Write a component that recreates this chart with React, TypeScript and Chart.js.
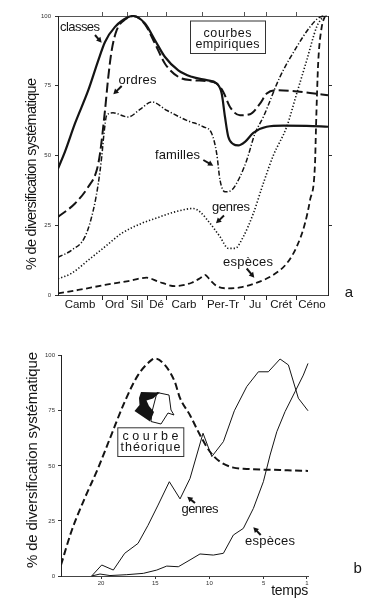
import React, { useEffect, useRef } from 'react';
import { Chart, registerables } from 'chart.js';
Chart.register(...registerables);

// ---------- Panel a : empirical curves ----------
// x = position along the geological time axis (arbitrary units 0–270)
const periodLabels = ['Camb', 'Ord', 'Sil', 'Dé', 'Carb', 'Per-Tr', 'Ju', 'Crét', 'Céno'];
const periodBounds = [0, 44, 69, 89, 108, 144, 186, 208, 238, 270];
const pctTicks = [0, 25, 50, 75, 100];

const classes: [number, number][] = [[0,45.3],[7,51.4],[17,61.5],[30.3,73.4],[40.3,84.1],[47,90.7],[57,96.1],[70.3,99.6],[75.3,100],[87,97.3],[97,91.3],[107,85.3],[120.3,80.5],[133.7,78.2],[148.7,77],[158.7,75.8],[163.7,72.2],[167,63.8],[170.3,56.7],[175.3,54.1],[180.3,53.6],[187,54.9],[195.3,58.1],[208.7,60.3],[225.3,60.7],[248.7,60.6],[270,60.3]];
const ordres: [number, number][] = [[0,28],[17,32.8],[30.3,38.8],[38.7,44.7],[42,50.7],[47,66.2],[50.3,78.2],[53.7,87.7],[58.7,94.9],[68,99],[75.3,100],[87,97],[97,90.1],[107,82.9],[120.3,78.2],[133.7,77],[148.7,76.7],[158.7,75.8],[165.3,72.8],[172,67.4],[182,64.4],[192,64.8],[202,68.6],[208.7,72.2],[218.7,73.4],[232,73.2],[252,72.4],[270,71.6]];
const familles: [number, number][] = [[0,13.5],[13.7,16.1],[27,20.9],[35.3,30.4],[40.3,40],[43.7,49.5],[46,57.9],[48.7,64.4],[55,65.3],[70,63.8],[82,66.5],[93.7,69.2],[108.7,66.2],[128.7,62.6],[145.3,60.3],[153.7,57.9],[158.7,50.7],[162,41.2],[167,37],[173.7,37.6],[182,42.4],[188.7,48.3],[197,57.9],[205.3,63.8],[222,78.2],[238.7,88.9],[252,96.1],[262,99.6],[270,100]];
const genresA: [number, number][] = [[0,5.8],[13.7,7.8],[30.3,12.5],[47,17.3],[63.7,22.1],[83.7,25.7],[97,27.4],[117,29.8],[135.3,31],[142,29.8],[152,25.7],[162,20.9],[170.3,16.7],[177,16.7],[185.3,20.9],[195.3,29.2],[205.3,40],[215.3,50],[228.7,60.3],[238.7,72.2],[248.7,84.1],[258.7,96.1],[265.3,100]];
const especesA: [number, number][] = [[0,0.6],[20.3,1.8],[47,3.6],[70.3,5],[88.7,6.2],[100.3,4.8],[117,3.2],[133.7,4.4],[142,6],[147,7.2],[152,5.4],[158.7,3.2],[168.7,2.4],[182,2.7],[198.7,4.4],[215.3,7.2],[228.7,11.3],[238.7,17.3],[247,25.7],[252,34],[257,47],[258,60],[259,72],[260.3,84],[263.7,96],[267,100]];

// ---------- Panel b : theoretical curve ----------
// x = temps (reversed axis)
const tempsTicks = [20, 15, 10, 5, 1];
const theorique: [number, number][] = [[23.7,5],[22.75,20.1],[21.51,35.3],[20.28,48.9],[19.06,64],[17.82,79.1],[16.59,91.2],[15.36,98],[15.05,98.8],[14.12,95.8],[13.2,88.2],[12.71,80.7],[11.79,73],[10.87,64],[9.95,56.4],[9.02,51.9],[7.79,49.2],[6.55,48.6],[3.48,48.1],[0.9,47.7]];
const genresB: [number, number][] = [[20.87,0],[19.94,5],[18.87,2.7],[17.82,10.3],[16.59,14.8],[15.67,23],[14.74,32.2],[13.7,42.8],[12.71,35],[11.79,44.3],[10.59,64.8],[9.78,54.2],[8.71,61],[7.7,75],[6.55,86],[5.48,92.7],[4.56,92.7],[3.48,98.5],[2.71,95.8],[1.79,80.7],[0.9,75]];
const especesB: [number, number][] = [[20.87,0],[20.1,0.9],[19.18,0.2],[17.63,0.6],[16.1,1.2],[14.86,2.7],[13.94,4.5],[12.87,4.2],[11.79,7.3],[10.87,10],[9.64,9.5],[8.71,10.3],[7.79,18.6],[6.87,21.6],[5.94,30.7],[5.02,42.8],[4.4,54.9],[3.78,65.5],[3.02,74.6],[2.09,83.7],[1.33,91.2],[0.9,96.5]];

const INK = '#141414';
const FONT = '"Liberation Sans", Arial, Helvetica, sans-serif';
const yTitle = '% de diversification systématique';

const pts = (a: [number, number][]) => a.map(([x, y]) => ({ x, y }));

function fitText(ctx: any, text: string, cx: number, cy: number, width: number, size: number, rot = 0, baseline = 'alphabetic') {
  ctx.save();
  ctx.font = `${size}px ${FONT}`;
  ctx.fillStyle = INK;
  ctx.textBaseline = baseline;
  ctx.textAlign = 'left';
  const natural = ctx.measureText(text).width;
  const n = Array.from(text).length;
  const ls = n > 1 ? (width - natural) / (n - 1) : 0;
  ctx.translate(cx, cy);
  if (rot) ctx.rotate(rot);
  if ('letterSpacing' in ctx && ls > -0.8) {
    ctx.letterSpacing = ls + 'px';
    ctx.fillText(text, -width / 2, 0);
    ctx.letterSpacing = '0px';
  } else {
    ctx.scale(width / natural, 1);
    ctx.fillText(text, -natural / 2, 0);
  }
  ctx.restore();
}

function arrow(ctx: any, x1: number, y1: number, x2: number, y2: number) {
  const ang = Math.atan2(y2 - y1, x2 - x1);
  const h = 6;
  ctx.save();
  ctx.strokeStyle = INK;
  ctx.fillStyle = INK;
  ctx.lineWidth = 2;
  ctx.setLineDash([]);
  ctx.beginPath();
  ctx.moveTo(x1, y1);
  ctx.lineTo(x2 - Math.cos(ang) * h * 0.7, y2 - Math.sin(ang) * h * 0.7);
  ctx.stroke();
  ctx.beginPath();
  ctx.moveTo(x2, y2);
  ctx.lineTo(x2 - h * Math.cos(ang - 0.5), y2 - h * Math.sin(ang - 0.5));
  ctx.lineTo(x2 - h * Math.cos(ang + 0.5), y2 - h * Math.sin(ang + 0.5));
  ctx.closePath();
  ctx.fill();
  ctx.restore();
}

function box(ctx: any, x: number, y: number, w: number, h: number) {
  ctx.save();
  ctx.fillStyle = '#fff';
  ctx.fillRect(x, y, w, h);
  ctx.strokeStyle = '#333';
  ctx.lineWidth = 1;
  ctx.setLineDash([]);
  ctx.strokeRect(x + 0.5, y + 0.5, w, h);
  ctx.restore();
}

const annotA = {
  id: 'annotA',
  afterDraw(chart: any) {
    const ctx = chart.ctx;
    fitText(ctx, yTitle, 31.5, 174, 192, 14.5, -Math.PI / 2, 'middle');
    fitText(ctx, 'classes', 80, 30.5, 40, 13);
    arrow(ctx, 95, 35, 101.7, 42.7);
    fitText(ctx, 'ordres', 137.5, 84, 38, 13);
    arrow(ctx, 121.7, 86, 113.3, 94.3);
    fitText(ctx, 'familles', 177.5, 159, 45, 13);
    arrow(ctx, 203.3, 160, 213.3, 165.7);
    fitText(ctx, 'genres', 231, 211, 38, 13);
    arrow(ctx, 224, 215.5, 216, 223.3);
    fitText(ctx, 'espèces', 248, 265.5, 50, 13);
    arrow(ctx, 246.7, 268.5, 254.3, 277.7);
    box(ctx, 190, 20.5, 75, 32.5);
    fitText(ctx, 'courbes', 227.5, 37, 48, 12.5);
    fitText(ctx, 'empiriques', 227.5, 47.5, 64, 12.5);
    fitText(ctx, 'a', 348.5, 297, 7.5, 15);
  },
};

const annotB = {
  id: 'annotB',
  afterDraw(chart: any) {
    const ctx = chart.ctx;
    fitText(ctx, yTitle, 33, 140, 216, 15, -Math.PI / 2, 'middle');
    // 3D arrow pictogram
    ctx.save();
    ctx.setLineDash([]);
    ctx.fillStyle = '#fff';
    ctx.strokeStyle = INK;
    ctx.lineWidth = 1;
    ctx.beginPath();
    ctx.moveTo(157, 72.5); ctx.lineTo(169, 75); ctx.lineTo(171, 90); ctx.lineTo(174, 95);
    ctx.lineTo(168, 93); ctx.lineTo(161, 104); ctx.lineTo(151, 101.5); ctx.lineTo(152, 91.7);
    ctx.closePath(); ctx.fill(); ctx.stroke();
    ctx.fillStyle = INK;
    ctx.beginPath();
    ctx.moveTo(141, 72); ctx.lineTo(160, 72.5); ctx.lineTo(153, 78.5); ctx.lineTo(146.5, 80.5);
    ctx.lineTo(149, 86); ctx.lineTo(154, 92); ctx.lineTo(150, 101.5); ctx.lineTo(134.5, 91);
    ctx.lineTo(139.5, 85); ctx.lineTo(139, 78);
    ctx.closePath(); ctx.fill();
    ctx.restore();
    box(ctx, 117.3, 107.3, 66, 28.7);
    fitText(ctx, 'courbe', 150.5, 120, 56, 12.5);
    fitText(ctx, 'théorique', 150.5, 130.5, 60, 12.5);
    fitText(ctx, 'genres', 200, 193, 37, 13);
    arrow(ctx, 195, 183, 187.3, 176.7);
    fitText(ctx, 'espèces', 270, 225, 50, 13);
    arrow(ctx, 260.7, 215, 253.3, 207.3);
    fitText(ctx, 'temps', 289.7, 274.5, 37, 14);
    fitText(ctx, 'b', 357.5, 253, 8, 15);
  },
};

const innerBounds = periodBounds.slice(1, -1);
const mids = periodBounds.slice(0, -1).map((b, i) => (b + periodBounds[i + 1]) / 2);

function line(data: [number, number][], width: number, dash: number[], smooth = true) {
  return {
    data: pts(data),
    borderColor: INK,
    borderWidth: width,
    borderDash: dash,
    pointRadius: 0,
    fill: false,
    cubicInterpolationMode: smooth ? 'monotone' : 'default',
    tension: smooth ? 0.4 : 0,
    clip: { left: 0, right: 2, top: 3, bottom: 2 },
  };
}

const tickFont = { family: FONT, size: 6 };

export default function App() {
  const refA = useRef<HTMLCanvasElement>(null);
  const refB = useRef<HTMLCanvasElement>(null);

  useEffect(() => {
    const a = new Chart(refA.current as HTMLCanvasElement, {
      type: 'line',
      data: {
        datasets: [
          { label: 'classes', ...line(classes, 2.2, []) },
          { label: 'ordres', ...line(ordres, 2, [10, 4]) },
          { label: 'familles', ...line(familles, 1.5, [5, 2, 1.2, 2]) },
          { label: 'genres', ...line(genresA, 1.6, [1.3, 2]) },
          { label: 'espèces', ...line(especesA, 1.8, [6, 3.5]) },
        ] as any,
      },
      options: {
        responsive: false,
        devicePixelRatio: 1,
        animation: false,
        layout: { padding: { left: 38, right: 54, top: 16, bottom: 9 } },
        plugins: { legend: { display: false }, tooltip: { enabled: false } },
        scales: {
          x: {
            type: 'linear', position: 'bottom', min: 0, max: 270,
            afterFit: (s: any) => { s.height = 16; },
            afterBuildTicks: (s: any) => { s.ticks = [...innerBounds, ...mids].sort((p, q) => p - q).map((v) => ({ value: v })); },
            grid: { drawOnChartArea: false, drawTicks: true, tickLength: 5, color: (c: any) => (innerBounds.includes(c.tick?.value) ? '#222' : 'rgba(0,0,0,0)') },
            border: { display: true, color: '#444', width: 1, dash: [3, 2] },
            ticks: {
              autoSkip: false, maxRotation: 0, padding: -2, color: INK,
              font: { family: FONT, size: 11.5 },
              callback: (v: any) => { const i = mids.indexOf(v); return i >= 0 ? periodLabels[i] : ''; },
            },
          },
          x2: {
            type: 'linear', position: 'top', min: 0, max: 270,
            afterFit: (s: any) => { s.height = 0; },
            afterBuildTicks: (s: any) => { s.ticks = innerBounds.map((v) => ({ value: v })); },
            grid: { drawOnChartArea: false, tickLength: 4, color: '#555' },
            border: { display: true, color: '#555', width: 1, dash: [2, 2] },
            ticks: { display: false },
          },
          y: {
            type: 'linear', position: 'left', min: 0, max: 100,
            afterFit: (s: any) => { s.width = 20; },
            afterBuildTicks: (s: any) => { s.ticks = pctTicks.map((v) => ({ value: v })); },
            grid: { drawOnChartArea: false, tickLength: 3, color: '#333' },
            border: { display: true, color: '#222', width: 1 },
            ticks: { padding: 4, color: '#333', font: tickFont, autoSkip: false },
          },
          y2: {
            type: 'linear', position: 'right', min: 0, max: 100,
            afterFit: (s: any) => { s.width = 0; },
            afterBuildTicks: (s: any) => { s.ticks = [25, 50, 75].map((v) => ({ value: v })); },
            grid: { drawOnChartArea: false, tickLength: 4, color: '#333' },
            border: { display: true, color: '#222', width: 1 },
            ticks: { display: false },
          },
        },
      } as any,
      plugins: [annotA],
    });

    const b = new Chart(refB.current as HTMLCanvasElement, {
      type: 'line',
      data: {
        datasets: [
          { label: 'courbe théorique', ...line(theorique, 2, [7, 3.5]) },
          { label: 'genres', ...line(genresB, 1, [], false) },
          { label: 'espèces', ...line(especesB, 1, [], false) },
        ] as any,
      },
      options: {
        responsive: false,
        devicePixelRatio: 1,
        animation: false,
        layout: { padding: { left: 41, right: 74, top: 35.7, bottom: 12 } },
        plugins: { legend: { display: false }, tooltip: { enabled: false } },
        scales: {
          x: {
            type: 'linear', position: 'bottom', reverse: true, min: 0.9, max: 23.7,
            afterFit: (s: any) => { s.height = 12; },
            afterBuildTicks: (s: any) => { s.ticks = tempsTicks.map((v) => ({ value: v })); },
            grid: { drawOnChartArea: false, tickLength: 3, color: '#333' },
            border: { display: true, color: '#444', width: 1, dash: [3, 2] },
            ticks: { autoSkip: false, maxRotation: 0, padding: 1, color: '#333', font: tickFont },
          },
          y: {
            type: 'linear', position: 'left', min: 0, max: 100,
            afterFit: (s: any) => { s.width = 20; },
            afterBuildTicks: (s: any) => { s.ticks = pctTicks.map((v) => ({ value: v })); },
            grid: { drawOnChartArea: false, tickLength: 3, color: '#333' },
            border: { display: true, color: '#222', width: 1 },
            ticks: { padding: 3, color: '#333', font: tickFont, autoSkip: false },
          },
        },
      } as any,
      plugins: [annotB],
    });

    return () => { a.destroy(); b.destroy(); };
  }, []);

  return (
    <div style={{ position: 'absolute', left: 0, top: 0, width: 382, height: 600, background: '#fff' }}>
      <canvas ref={refA} width={382} height={320} style={{ position: 'absolute', left: 0, top: 0, width: 382, height: 320 }} />
      <canvas ref={refB} width={382} height={280} style={{ position: 'absolute', left: 0, top: 320, width: 382, height: 280 }} />
    </div>
  );
}
